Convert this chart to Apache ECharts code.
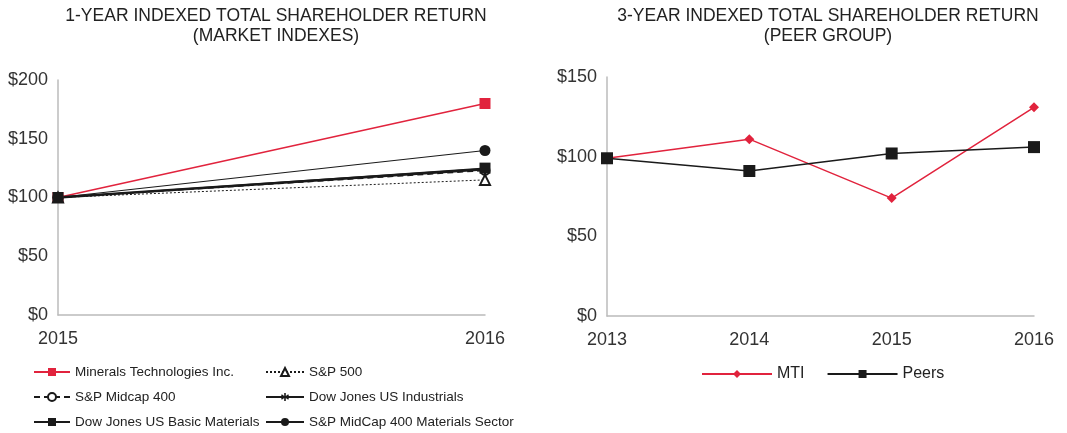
<!DOCTYPE html>
<html>
<head>
<meta charset="utf-8">
<script src="https://cdn.jsdelivr.net/npm/echarts@6/dist/echarts.min.js"></script>
<style>
  html, body { margin: 0; padding: 0; background: #fff; }
  #chart { width: 1067px; height: 433px; }
</style>
</head>
<body>
<div id="chart"></div>
<script>
// 1-year chart (market indexes)
var years1 = ['2015', '2016'];
var mtiOneYear = [100, 180];
var sp500 = [100, 115];
var spMidcap400 = [100, 123];
var djIndustrials = [100, 124];
var djBasicMaterials = [100, 125];
var spMidcapMaterials = [100, 140];

// 3-year chart (peer group)
var years3 = ['2013', '2014', '2015', '2016'];
var mtiThreeYear = [99, 111, 74, 131];
var peers = [99, 91, 102, 106];

var RED = '#e1233d';
var BLACK = '#1a1a1a';
var FONT = 'Liberation Sans';
var asterisk = 'path://M4,0 L6,0 L6,3.6 L9,1.6 L10,3.2 L6.8,5 L10,6.8 L9,8.4 L6,6.4 L6,10 L4,10 L4,6.4 L1,8.4 L0,6.8 L3.2,5 L0,3.2 L1,1.6 L4,3.6 Z';

var chart = echarts.init(document.getElementById('chart'));

var axisLabelStyle = { color: '#333', fontSize: 18, fontFamily: FONT };
var axisLineStyle = { lineStyle: { color: '#bbb', width: 1.5 } };
var titleStyle = { fontSize: 17.5, fontWeight: 'normal', color: '#222', lineHeight: 20, fontFamily: FONT };
var legendText = { fontSize: 13.5, color: '#222', fontFamily: FONT };

var option = {
    animation: false,
    textStyle: { fontFamily: FONT },
    title: [
        {
            text: '1-YEAR INDEXED TOTAL SHAREHOLDER RETURN\n(MARKET INDEXES)',
            left: 271, top: 1, textAlign: 'center', textStyle: titleStyle
        },
        {
            text: '3-YEAR INDEXED TOTAL SHAREHOLDER RETURN\n(PEER GROUP)',
            left: 823, top: 1, textAlign: 'center', textStyle: titleStyle
        }
    ],
    grid: [
        { left: 58, right: 582, top: 80, bottom: 118 },
        { left: 607, right: 33, top: 77, bottom: 117 }
    ],
    xAxis: [
        {
            type: 'category', gridIndex: 0, data: years1, boundaryGap: false,
            axisLine: axisLineStyle, axisTick: { show: false },
            axisLabel: Object.assign({ margin: 15 }, axisLabelStyle)
        },
        {
            type: 'category', gridIndex: 1, data: years3, boundaryGap: false,
            axisLine: axisLineStyle, axisTick: { show: false },
            axisLabel: Object.assign({ margin: 15 }, axisLabelStyle)
        }
    ],
    yAxis: [
        {
            type: 'value', gridIndex: 0, min: 0, max: 200, interval: 50,
            axisLine: Object.assign({ show: true }, axisLineStyle), axisTick: { show: false },
            splitLine: { show: false },
            axisLabel: Object.assign({ margin: 10, formatter: '${value}' }, axisLabelStyle)
        },
        {
            type: 'value', gridIndex: 1, min: 0, max: 150, interval: 50,
            axisLine: Object.assign({ show: true }, axisLineStyle), axisTick: { show: false },
            splitLine: { show: false },
            axisLabel: Object.assign({ margin: 10, formatter: '${value}' }, axisLabelStyle)
        }
    ],
    legend: [
        {
            orient: 'vertical', left: 28, top: 360, height: 90, itemWidth: 36, itemHeight: 10, itemGap: 11,
            textStyle: legendText,
            data: ['Minerals Technologies Inc.', 'S&P Midcap 400', 'Dow Jones US Basic Materials']
        },
        {
            orient: 'vertical', left: 260, top: 360, height: 90, itemWidth: 38, itemHeight: 10, itemGap: 11,
            textStyle: legendText,
            data: ['S&P 500', 'Dow Jones US Industrials', 'S&P MidCap 400 Materials Sector']
        },
        {
            orient: 'horizontal', left: 696, top: 361, itemWidth: 70, itemHeight: 10, itemGap: 22,
            textStyle: { fontSize: 16, color: '#222', fontFamily: FONT },
            data: ['MTI', 'Peers']
        }
    ],
    series: [
        {
            name: 'Minerals Technologies Inc.', type: 'line', xAxisIndex: 0, yAxisIndex: 0, data: mtiOneYear,
            symbol: 'rect', symbolSize: 11,
            lineStyle: { color: RED, width: 1.5 },
            itemStyle: { color: RED }
        },
        {
            name: 'S&P 500', type: 'line', xAxisIndex: 0, yAxisIndex: 0, data: sp500,
            symbol: 'emptyTriangle', symbolSize: 10,
            lineStyle: { color: BLACK, width: 1, type: [2, 2] },
            itemStyle: { color: BLACK, borderWidth: 1.5 }
        },
        {
            name: 'S&P Midcap 400', type: 'line', xAxisIndex: 0, yAxisIndex: 0, data: spMidcap400,
            symbol: 'emptyCircle', symbolSize: 9,
            lineStyle: { color: BLACK, width: 1.5, type: [6, 4] },
            itemStyle: { color: BLACK, borderWidth: 1.5 }
        },
        {
            name: 'Dow Jones US Industrials', type: 'line', xAxisIndex: 0, yAxisIndex: 0, data: djIndustrials,
            symbol: asterisk, symbolSize: 10,
            lineStyle: { color: BLACK, width: 2.5 },
            itemStyle: { color: BLACK }
        },
        {
            name: 'S&P MidCap 400 Materials Sector', type: 'line', xAxisIndex: 0, yAxisIndex: 0, data: spMidcapMaterials,
            symbol: 'circle', symbolSize: 11,
            lineStyle: { color: BLACK, width: 1.2 },
            itemStyle: { color: BLACK }
        },
        {
            name: 'Dow Jones US Basic Materials', type: 'line', xAxisIndex: 0, yAxisIndex: 0, data: djBasicMaterials,
            symbol: 'rect', symbolSize: 11,
            lineStyle: { color: BLACK, width: 1.2 },
            itemStyle: { color: BLACK }
        },
        {
            name: 'MTI', type: 'line', xAxisIndex: 1, yAxisIndex: 1, data: mtiThreeYear,
            symbol: 'diamond', symbolSize: 10,
            lineStyle: { color: RED, width: 1.5 },
            itemStyle: { color: RED }
        },
        {
            name: 'Peers', type: 'line', xAxisIndex: 1, yAxisIndex: 1, data: peers,
            symbol: 'rect', symbolSize: 12,
            lineStyle: { color: BLACK, width: 1.5 },
            itemStyle: { color: BLACK }
        }
    ]
};

chart.setOption(option);
window.addEventListener('resize', chart.resize);
</script>
</body>
</html>
